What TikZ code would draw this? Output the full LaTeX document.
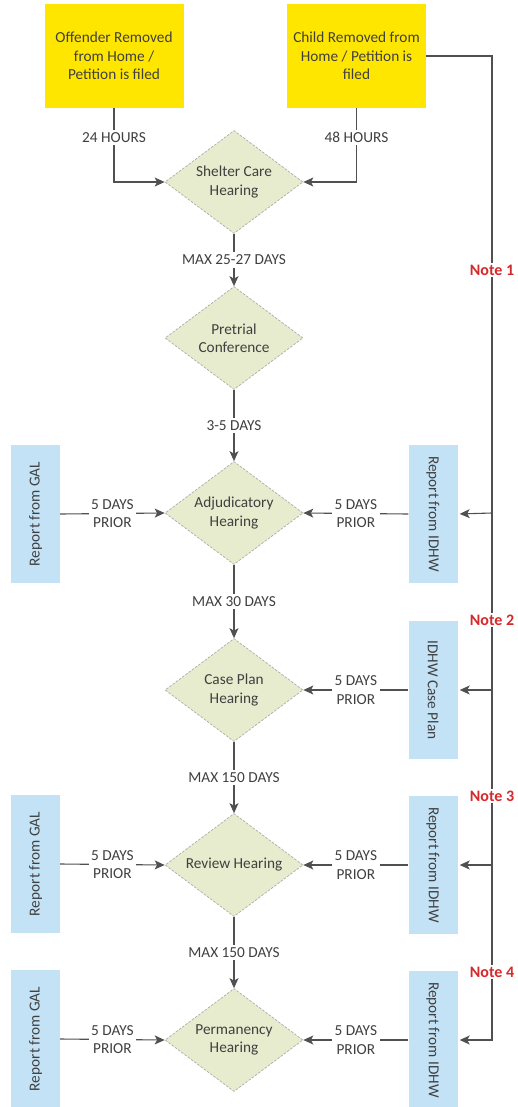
\documentclass[tikz,border=0pt]{standalone}
\usepackage{fontspec}
\setmainfont{Carlito}
\usetikzlibrary{arrows.meta, positioning, shapes.geometric}
\definecolor{boxyellow}{HTML}{FFE600}
\definecolor{hearfill}{HTML}{E6ECCD}
\definecolor{repblue}{HTML}{C3E2F5}
\definecolor{linegrey}{HTML}{505050}
\definecolor{textgrey}{HTML}{404040}
\definecolor{notered}{HTML}{D42A2C}
\tikzset{
    start/.style={fill=boxyellow, minimum width=139pt, minimum height=104pt, align=center},
    hearing/.style={diamond, aspect=1.34, inner sep=0pt, minimum width=138pt, minimum height=103pt,
        fill=hearfill, draw=gray!65, line width=0.7pt, dash pattern=on 2.5pt off 1.5pt, align=center},
    report/.style={fill=repblue, minimum width=49pt, minimum height=138pt, inner sep=0pt},
    gap/.style={fill=white, align=center, inner sep=2.5pt},
    note/.style={fill=white, text=notered, font=\fontsize{16}{18}\selectfont\bfseries, inner sep=2pt},
    arr/.style={draw=linegrey, line width=1.1pt, -{Stealth[length=10pt,width=9pt,inset=2.5pt]}}
}

\begin{document}
\begin{tikzpicture}[x=1pt, y=-1pt]
    \tikzstyle{every node}=[text=textgrey, font=\fontsize{15.3}{18.3}\selectfont];
    \useasboundingbox (0,0) rectangle (517,1107);
    % column of hearings
    \node[start] (off) at (114,56) {Offender Removed\\from Home /\\Petition is filed};
    \node[start] (child) at (356.5,56) {Child Removed from\\Home / Petition is\\filed};
    \node[hearing] (shelter) at (234,182) {Shelter Care\\Hearing};
    \node[hearing] (pretrial) at (234,338) {Pretrial\\Conference};
    \node[hearing] (adjud) at (234,513) {Adjudicatory\\Hearing};
    \node[hearing] (caseplan) at (234,690) {Case Plan\\Hearing};
    \node[hearing] (review) at (234,865) {Review Hearing};
    \node[hearing] (perm) at (234,1040) {Permanency\\Hearing};
    % reports
    \node[report] (gal1) at (35.5,514) {\rotatebox{90}{Report from GAL}};
    \node[report] (gal2) at (35.5,864) {\rotatebox{90}{Report from GAL}};
    \node[report] (gal3) at (35.5,1039) {\rotatebox{90}{Report from GAL}};
    \node[report] (idhw1) at (433,514) {\rotatebox{-90}{Report from IDHW}};
    \node[report] (idhw2) at (433,690) {\rotatebox{-90}{IDHW Case Plan}};
    \node[report] (idhw3) at (433,865) {\rotatebox{-90}{Report from IDHW}};
    \node[report] (idhw4) at (433,1040) {\rotatebox{-90}{Report from IDHW}};
    \coordinate (n1) at (492,513);
    \coordinate (n2) at (492,690);
    \coordinate (n3) at (492,865);
    \coordinate (n4) at (492,1040);

    \draw[arr] (off.south) |- node[gap, pos=0.2]{24 HOURS} (shelter.west);
    \draw[arr] (child.south) |- node[gap, pos=0.2]{48 HOURS} (shelter.east);
    \draw[arr] (shelter) -- node[gap]{MAX 25-27 DAYS} (pretrial);
    \draw[arr] (pretrial) -- node[gap]{3-5 DAYS} (adjud);
    \draw[arr] (adjud) -- node[gap]{MAX 30 DAYS} (caseplan);
    \draw[arr] (caseplan) -- node[gap]{MAX 150 DAYS} (review);
    \draw[arr] (review) -- node[gap]{MAX 150 DAYS} (perm);

    \draw[arr] (gal1.east) -- node[gap]{5 DAYS\\PRIOR} (adjud.west);
    \draw[arr] (gal2.east) -- node[gap]{5 DAYS\\PRIOR} (review.west);
    \draw[arr] (gal3.east) -- node[gap]{5 DAYS\\PRIOR} (perm.west);
    \draw[arr] (idhw1.west) -- node[gap]{5 DAYS\\PRIOR} (adjud.east);
    \draw[arr] (idhw2.west) -- node[gap]{5 DAYS\\PRIOR} (caseplan.east);
    \draw[arr] (idhw3.west) -- node[gap]{5 DAYS\\PRIOR} (review.east);
    \draw[arr] (idhw4.west) -- node[gap]{5 DAYS\\PRIOR} (perm.east);

    % notes line
    \draw[arr, shorten >=2pt] (child.east) -| (n4) -- (idhw4.east);
    \draw[arr, shorten >=2pt] (n1) -- (idhw1.east);
    \draw[arr, shorten >=2pt] (n2) -- (idhw2.east);
    \draw[arr, shorten >=2pt] (n3) -- (idhw3.east);
    \node[note] (note1) at (492,270) {Note 1};
    \node[note] (note2) at (492,620) {Note 2};
    \node[note] (note3) at (492,796) {Note 3};
    \node[note] (note4) at (492,972) {Note 4};
\end{tikzpicture}
\end{document}
